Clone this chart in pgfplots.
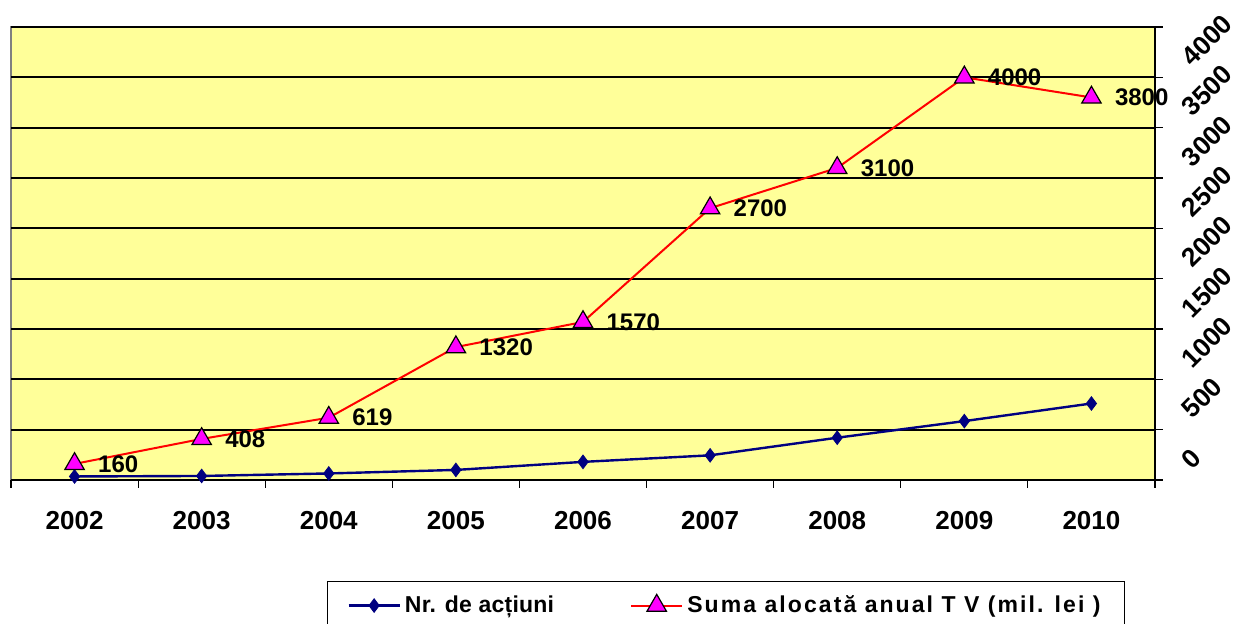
\documentclass[border=0pt]{standalone}
\usepackage{fontspec}
\setmainfont{Liberation Sans}
\newfontfamily\legfontA[LetterSpace=1]{Liberation Sans}
\newfontfamily\legfontB[LetterSpace=9]{Liberation Sans}
\usepackage{pgfplots}
\pgfplotsset{compat=1.18}

\definecolor{plotbg}{HTML}{FFFF99}
\definecolor{navyline}{HTML}{000080}
\definecolor{tvred}{HTML}{FF0000}
\definecolor{tvmag}{HTML}{FF00FF}

\begin{document}
\begin{tikzpicture}
\begin{axis}[
  scale only axis, width=572pt, height=226.5pt,
  xmin=-0.5, xmax=8.5, ymin=0, ymax=4500,
  axis x line*=bottom, axis y line*=right,
  axis line style={black, line width=0.8pt, -},
  axis background/.style={fill=plotbg, draw=gray, line width=1pt},
  xtick={0,...,8},
  xticklabels={2002,2003,2004,2005,2006,2007,2008,2009,2010},
  major x tick style={draw=none},
  minor xtick={-0.5,0.5,...,8.5},
  minor x tick style={black, line width=0.6pt},
  minor tick length=4pt,
  ytick={0,500,...,4500},
  yticklabels={0,500,1000,1500,2000,2500,3000,3500,4000,{}},
  major tick length=4pt,
  tick align=outside,
  y tick style={black, line width=0.6pt},
  ymajorgrids, grid style={black, line width=1pt},
  xticklabel style={font=\fontsize{13}{15}\selectfont\bfseries, anchor=north, inner sep=0pt, yshift=-11.5pt},
  yticklabel style={font=\fontsize{13.2}{15}\selectfont\bfseries, inner sep=0pt, xshift=15pt, yshift=4.5pt, rotate=45, anchor=south west},
  /pgf/number format/assume math mode=true,
  clip=false,
  legend columns=2,
  legend style={at={(0.276,-0.223)}, anchor=north west, draw=black, line width=0.6pt,
    font=\fontsize{11.5}{13}\selectfont\bfseries, inner xsep=10pt, inner ysep=5pt,
    /tikz/every even column/.append style={column sep=36pt}},
  legend image code/.code={\draw[mark repeat=2, mark phase=2] plot coordinates {(0cm,0cm) (0.45cm,0cm) (0.9cm,0cm)};},
]
\addplot[navyline, line width=1.2pt, mark=diamond*, mark size=3.4pt, mark options={fill=navyline, draw=navyline, line width=0.4pt}]
  coordinates {(0,35) (1,40) (2,65) (3,100) (4,180) (5,245) (6,420) (7,585) (8,760)};
\addlegendentry{\legfontA Nr. de acțiuni}
\addplot[tvred, line width=1pt, mark=triangle*, mark size=5.6pt, mark options={fill=tvmag, draw=black, line width=0.6pt},
  nodes near coords, point meta=explicit symbolic,
  every node near coord/.append style={font=\fontsize{12}{14}\selectfont\bfseries, text=black, anchor=west, inner sep=0pt, xshift=11.5pt}]
  coordinates {(0,160)[160] (1,408)[408] (2,619)[619] (3,1320)[1320] (4,1570)[1570] (5,2700)[2700] (6,3100)[3100] (7,4000)[4000] (8,3800)[3800]};
\addlegendentry{\legfontB Suma alocată anual T V (mil. lei )}
\end{axis}
\pgfresetboundingbox
\path (-5.5pt,-72pt) rectangle (612.5pt,240pt);
\end{tikzpicture}
\end{document}
